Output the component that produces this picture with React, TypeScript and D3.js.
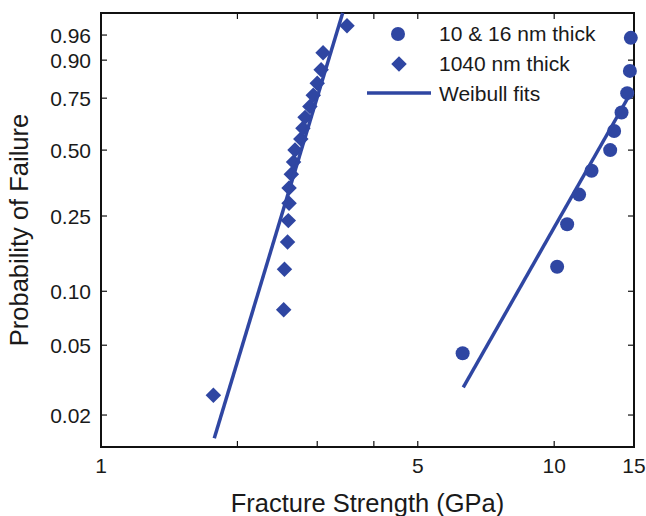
import React, { useEffect, useRef } from "react";
import * as d3 from "d3";

// 10 & 16 nm thick films (circles)
const thinStrength = [6.28, 10.15, 10.68, 11.35, 12.09, 13.29, 13.56, 14.08, 14.49, 14.69, 14.76];
const thinProb = [0.045, 0.136, 0.227, 0.318, 0.409, 0.5, 0.591, 0.682, 0.773, 0.864, 0.955];

// 1040 nm thick films (diamonds)
const thickStrength = [1.77, 2.53, 2.54, 2.58, 2.59, 2.6, 2.6, 2.63, 2.66, 2.68, 2.76, 2.79, 2.82, 2.89, 2.94, 3.0, 3.06, 3.09, 3.49];
const thickProb = [0.026, 0.079, 0.132, 0.184, 0.237, 0.289, 0.342, 0.395, 0.447, 0.5, 0.553, 0.605, 0.658, 0.711, 0.763, 0.816, 0.868, 0.921, 0.974];

// Weibull fit lines, end points
const thickFitX = [1.778, 3.414];
const thickFitP = [0.0147, 0.9867];
const thinFitX = [6.3, 14.62];
const thinFitP = [0.0288, 0.76];

const xTicks = [1, 2, 3, 4, 5, 10, 15];
const xTickLabels = ["1", "", "", "", "5", "10", "15"];
const yTicks = [0.02, 0.05, 0.1, 0.25, 0.5, 0.75, 0.9, 0.96];
const yTickLabels = ["0.02", "0.05", "0.10", "0.25", "0.50", "0.75", "0.90", "0.96"];

const legendLabels = ["10 & 16 nm thick", "1040 nm thick", "Weibull fits"];

const weib = (p: number) => Math.log(-Math.log(1 - p));

export default function App() {
  const ref = useRef<SVGSVGElement>(null);

  useEffect(() => {
    const width = 646;
    const height = 516;
    const left = 101, right = 634, top = 13, bottom = 447;
    const blue = "#2f46a2";
    const font = "'Liberation Sans', Arial, Helvetica, sans-serif";

    const svg = d3.select(ref.current).attr("width", width).attr("height", height);
    svg.selectAll("*").remove();

    const x = d3.scaleLog().domain([1, 15]).range([left, right]);
    const y = d3.scaleLinear().domain([weib(0.0131), weib(0.9867)]).range([bottom, top]);

    // ticks (inward, on all four sides)
    const tl = 6;
    const g = svg.append("g").attr("stroke", "#111").attr("stroke-width", 1.2);
    xTicks.forEach(t => {
      g.append("line").attr("x1", x(t)).attr("x2", x(t)).attr("y1", bottom).attr("y2", bottom - tl);
      g.append("line").attr("x1", x(t)).attr("x2", x(t)).attr("y1", top).attr("y2", top + tl);
    });
    yTicks.forEach(t => {
      g.append("line").attr("x1", left).attr("x2", left + tl).attr("y1", y(weib(t))).attr("y2", y(weib(t)));
      g.append("line").attr("x1", right).attr("x2", right - tl).attr("y1", y(weib(t))).attr("y2", y(weib(t)));
    });

    svg.append("rect")
      .attr("x", left).attr("y", top).attr("width", right - left).attr("height", bottom - top)
      .attr("fill", "none").attr("stroke", "#111").attr("stroke-width", 2);

    // tick labels
    svg.selectAll(".xl").data(xTicks).join("text")
      .attr("x", d => x(d)).attr("y", 473)
      .attr("text-anchor", "middle")
      .style("font-family", font).style("font-size", "21px").attr("fill", "#1a1a1a")
      .text((d, i) => xTickLabels[i]);

    svg.selectAll(".yl").data(yTicks).join("text")
      .attr("x", 91).attr("y", d => y(weib(d)) + 7.5)
      .attr("text-anchor", "end")
      .style("font-family", font).style("font-size", "21px").attr("fill", "#1a1a1a")
      .text((d, i) => yTickLabels[i]);

    // axis titles
    svg.append("text")
      .attr("x", (left + right) / 2).attr("y", 512)
      .attr("text-anchor", "middle")
      .style("font-family", font).style("font-size", "25.5px").attr("fill", "#1a1a1a")
      .text("Fracture Strength (GPa)");

    svg.append("text")
      .attr("transform", `translate(28,${230}) rotate(-90)`)
      .attr("text-anchor", "middle")
      .style("font-family", font).style("font-size", "25.5px").attr("fill", "#1a1a1a")
      .text("Probability of Failure");

    // square rotated 45deg -> diamond like the reference
    const diamond = d3.symbol().type(d3.symbolSquare).size(120);

    // markers
    svg.selectAll(".thin").data(thinStrength).join("circle")
      .attr("cx", d => x(d)).attr("cy", (d, i) => y(weib(thinProb[i])))
      .attr("r", 7).attr("fill", blue);

    svg.selectAll(".thick").data(thickStrength).join("path")
      .attr("d", diamond)
      .attr("transform", (d, i) => `translate(${x(d)},${y(weib(thickProb[i]))}) rotate(45)`)
      .attr("fill", blue);

    // fit lines
    const line = d3.line<number>().x(d => x(d));
    [[thickFitX, thickFitP], [thinFitX, thinFitP]].forEach(([xs, ps]) => {
      svg.append("path")
        .attr("d", line.y((d, i) => y(weib(ps[i])))(xs))
        .attr("fill", "none").attr("stroke", blue).attr("stroke-width", 3.5);
    });

    // legend
    const lg = svg.append("g");
    lg.append("circle").attr("cx", 398).attr("cy", 34).attr("r", 7).attr("fill", blue);
    lg.append("path").attr("d", diamond).attr("transform", "translate(399,64) rotate(45)").attr("fill", blue);
    lg.append("line").attr("x1", 367).attr("x2", 431).attr("y1", 93).attr("y2", 93)
      .attr("stroke", blue).attr("stroke-width", 3.5);
    lg.selectAll("text").data(legendLabels).join("text")
      .attr("x", 439).attr("y", (d, i) => 41 + i * 30)
      .style("font-family", font).style("font-size", "21px").attr("fill", "#1a1a1a")
      .text(d => d);
  }, []);

  return (
    <div>
      <svg ref={ref} style={{ position: "absolute", left: 0, top: 0 }} />
    </div>
  );
}
